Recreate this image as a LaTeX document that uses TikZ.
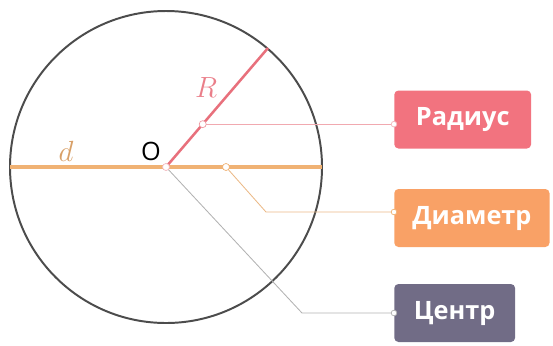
\documentclass[tikz,border=0pt]{standalone}
\usepackage{fontspec}
\setmainfont{Open Sans}
\usetikzlibrary{positioning,calc}
\definecolor{radcol}{HTML}{F2737F}
\definecolor{diacol}{HTML}{F9A166}
\definecolor{cencol}{HTML}{716C86}
\definecolor{radline}{HTML}{E8707C}
\definecolor{dialine}{HTML}{F0B274}
\tikzset{tag/.style={rounded corners=3pt,align=center,minimum height=1.45cm,inner xsep=4pt,
    text=white,font=\fontsize{18}{20}\selectfont\bfseries,anchor=west},
  knot/.style={circle,draw,fill=white,inner sep=0pt,minimum size=5pt,line width=0.5pt},
  lead/.style={line width=0.6pt}}
\begin{document}
\begin{tikzpicture}[x=0.025cm,y=-0.025cm]
\useasboundingbox (0,0) rectangle (553,345);
% circle
\coordinate (O) at (166,167);
\draw[line width=1.4pt,black!70] (O) circle[radius=156];
% diameter and radius
\coordinate (dl) at (10,167);
\coordinate (dr) at (322,167);
\coordinate (rend) at (268,48);
\draw[line width=2.2pt,dialine] (dl) -- (dr);
\draw[line width=1.8pt,radline] (O) -- (rend);
% labels
\node[text=radline!90] (Rlab) at (206,88) {\fontsize{20}{22}\selectfont$R$};
\node[text=dialine!90!black] (dlab) at (66,151) {\fontsize{20}{22}\selectfont$d$};
\node (Olab) at (151,151) {\fontsize{18}{19}\selectfont O};
% boxes
\node[tag,fill=radcol,minimum width=3.42cm] (rbox) at (394,119.5) {Радиус};
\node[tag,fill=diacol,minimum width=3.88cm] (dbox) at (394,218) {Диаметр};
\node[tag,fill=cencol,minimum width=3.02cm] (cbox) at (394,313) {Центр};
% leads
\coordinate (rdot) at ($(O)!0.36!(rend)$);
\coordinate (ddot) at (226,167);
\coordinate (dbend) at (266,212);
\coordinate (cbend) at (302,313);
\draw[lead,radline!60] (rdot) -- (rbox.west |- rdot);
\draw[lead,dialine!80!brown!80] (ddot) -- (dbend) -- (dbox.west |- dbend);
\draw[lead,black!30] (O) -- (cbend) -- (cbox.west |- cbend);
\node[knot,draw=radline!70] at (rdot) {};
\node[knot,draw=dialine] at (ddot) {};
\node[knot,draw=radline!50] at (O) {};
\node[knot,draw=radline!50,minimum size=4pt] at (rbox.west |- rdot) {};
\node[knot,draw=dialine,minimum size=4pt] at (dbox.west |- dbend) {};
\node[knot,draw=black!30,minimum size=4pt] at (cbox.west |- cbend) {};
\end{tikzpicture}
\end{document}
